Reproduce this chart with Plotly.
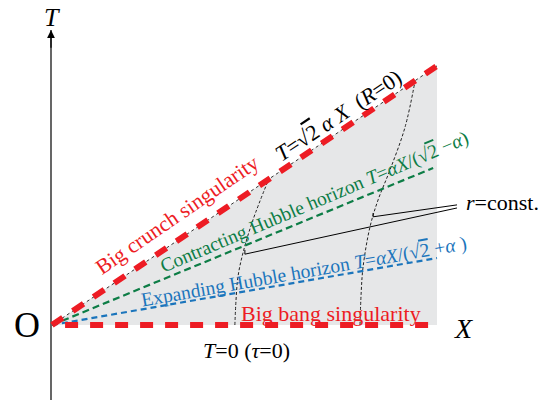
import plotly.graph_objects as go

# ---- data (diagram units: X and T share the same scale) ----
crunch_slope = 0.673      # T = sqrt(2) alpha X  (big crunch)
contract_slope = 0.412    # T = alpha X/(sqrt2 - alpha)
expand_slope = 0.174      # T = alpha X/(sqrt2 + alpha)
x_end = 1.0               # right edge of the shaded region
bang_x_start = 0.034
horizon_x_start = [0.0, 0.0]
contract_x_end = 0.99
expand_x_end = 1.0

# r = const. curves
r1_X = [0.475, 0.478, 0.483, 0.496, 0.522, 0.561]
r1_T = [0.0, 0.065, 0.125, 0.187, 0.273, 0.374]
r2_X = [0.800, 0.803, 0.808, 0.826, 0.847, 0.878, 0.917, 0.943]
r2_T = [0.0, 0.083, 0.151, 0.255, 0.325, 0.403, 0.514, 0.634]

# leader lines for "r=const."
leadA_X = [0.834, 0.834, 1.052]
leadA_T = [0.291, 0.281, 0.312]
leadB_X = [0.501, 0.501, 1.052]
leadB_T = [0.195, 0.184, 0.304]

# T axis
axis_X = -0.0026
axis_T = [-0.195, 0.766]

RED = "#ed1c24"
GREEN = "#0d7d46"
BLUE = "#1b75bc"
GRAY = "#e6e7e8"
SERIF = "Liberation Serif, Times New Roman, serif"

fig = go.Figure()

# shaded region
fig.add_trace(go.Scatter(
    x=[0, x_end, x_end, 0], y=[0, 0, crunch_slope * x_end, 0],
    fill="toself", fillcolor=GRAY, line=dict(width=0), mode="lines",
    hoverinfo="skip"))

# T axis line
fig.add_trace(go.Scatter(x=[axis_X, axis_X], y=axis_T, mode="lines",
                         line=dict(color="black", width=1.2)))

# r = const curves
for xs, ts in [(r1_X, r1_T), (r2_X, r2_T)]:
    fig.add_trace(go.Scatter(x=xs, y=ts, mode="lines",
                             line=dict(color="#222", width=1, dash="3px,2px", shape="spline")))

# leader lines
for xs, ts in [(leadA_X, leadA_T), (leadB_X, leadB_T)]:
    fig.add_trace(go.Scatter(x=xs, y=ts, mode="lines",
                             line=dict(color="black", width=1)))

# expanding horizon (blue)
fig.add_trace(go.Scatter(x=[horizon_x_start[1], expand_x_end],
                         y=[expand_slope * horizon_x_start[1], expand_slope * expand_x_end],
                         mode="lines", line=dict(color=BLUE, width=2.2, dash="6px,4px")))
# contracting horizon (green)
fig.add_trace(go.Scatter(x=[horizon_x_start[0], contract_x_end],
                         y=[contract_slope * horizon_x_start[0], contract_slope * contract_x_end],
                         mode="lines", line=dict(color=GREEN, width=2.2, dash="7px,4px")))

# thin black dash line beneath crunch
fig.add_trace(go.Scatter(x=[0, x_end], y=[0, crunch_slope * x_end], mode="lines",
                         line=dict(color="#333", width=1, dash="3px,3px")))
# big crunch (red)
fig.add_trace(go.Scatter(x=[0, x_end], y=[0, crunch_slope * x_end], mode="lines",
                         line=dict(color=RED, width=6, dash="13px,12px")))
# big bang (red)
fig.add_trace(go.Scatter(x=[bang_x_start, x_end], y=[0, 0], mode="lines",
                         line=dict(color=RED, width=6, dash="13px,12px")))

ann = []
def label(x, y, text, size, color="black", angle=0):
    ann.append(dict(x=x, y=y, xref="x", yref="y", text=text, showarrow=False,
                    textangle=angle, xanchor="center", yanchor="middle",
                    font=dict(family=SERIF, size=size, color=color)))

OV = "<span style='text-decoration:overline'>2</span>"
label(0.325, 0.286, "Big crunch singularity", 21.5, RED, -34.5)
label(0.743, 0.545, "<i>T</i>=√" + OV + " <i>α X</i>  (<i>R</i>=0)", 22, "black", -33.5)
label(0.683, 0.320,
      "Contracting Hubble horizon <i>T</i>=<i>αX</i>/(√" + OV + " −<i>α</i>)",
      19.5, GREEN, -23)
label(0.655, 0.138,
      "Expanding Hubble horizon <i>T</i>=<i>αX</i>/(√" + OV + " +<i>α</i> )",
      19.5, BLUE, -10)
label(0.725, 0.031, "Big bang singularity", 22, RED, 0)
label(0.506, -0.065, "<i>T</i>=0 (<i>τ</i>=0)", 22, "black")
label(1.171, 0.317, "<i>r</i>=const.", 22, "black")
label(1.068, -0.008, "<i>X</i>", 28, "black")
label(0.0, 0.80, "<i>T</i>", 26, "black")
label(-0.065, 0.0, "O", 36, "black")

# arrow head on T axis
ann.append(dict(x=axis_X, y=axis_T[1], ax=axis_X, ay=axis_T[1] - 0.05,
                xref="x", yref="y", axref="x", ayref="y", text="",
                showarrow=True, arrowhead=2, arrowsize=1.3, arrowwidth=1.2,
                arrowcolor="black"))

fig.update_layout(
    width=547, height=400, autosize=False,
    margin=dict(l=0, r=0, t=0, b=0),
    paper_bgcolor="white", plot_bgcolor="white",
    showlegend=False,
    xaxis=dict(range=[-0.13506, 1.28571], visible=False, fixedrange=True),
    yaxis=dict(range=[-0.19481, 0.84416], visible=False, fixedrange=True),
    annotations=ann,
)

fig.write_html("out.html", config={"displayModeBar": False},
               post_script="document.body.style.margin='0';document.body.style.overflow='hidden';")
